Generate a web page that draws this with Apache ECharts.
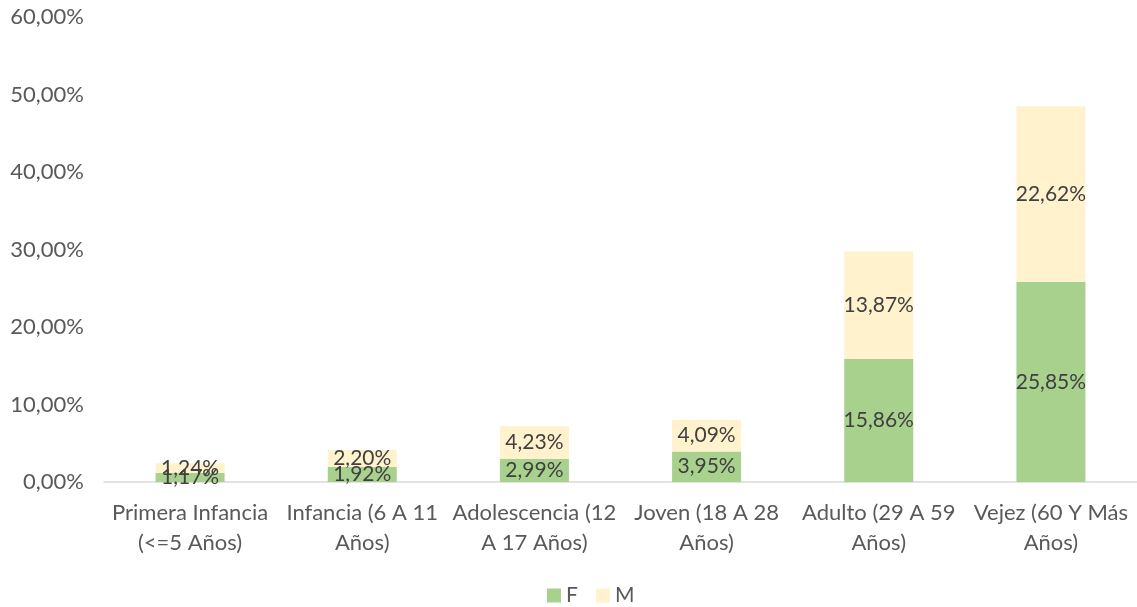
<!DOCTYPE html>
<html lang="es" style="height: 100%">
<head>
  <meta charset="utf-8">
</head>
<body style="height: 100%; margin: 0">
  <div id="container" style="height: 100%"></div>
  <script type="text/javascript" src="https://cdn.jsdelivr.net/npm/echarts@6/dist/echarts.min.js"></script>
  <script>
    var categorias = ['Primera Infancia\n(<=5 Años)', 'Infancia (6 A 11\nAños)', 'Adolescencia (12\nA 17 Años)', 'Joven (18 A 28\nAños)', 'Adulto (29 A 59\nAños)', 'Vejez (60 Y Más\nAños)'];
    var datosF = [1.17, 1.92, 2.99, 3.95, 15.86, 25.85];
    var datosM = [1.24, 2.20, 4.23, 4.09, 13.87, 22.62];

    var fuente = 'Lato, "Open Sans", sans-serif';
    function pct(v) {
      return Number(v).toFixed(2).replace('.', ',') + '%';
    }

    var myChart = echarts.init(document.getElementById('container'), null, { renderer: 'canvas' });

    var etiqueta = {
      show: true,
      position: 'inside',
      color: '#404040',
      fontSize: 21,
      fontFamily: fuente,
      formatter: function (p) { return pct(p.value); }
    };

    var option = {
      animation: false,
      textStyle: { fontFamily: fuente },
      grid: { left: 104, right: -4, top: 17, bottom: 125 },
      legend: {
        bottom: -4,
        left: 542,
        itemWidth: 14,
        itemHeight: 14,
        itemGap: 18,
        icon: 'rect',
        textStyle: { color: '#595959', fontSize: 21, fontFamily: fuente },
        data: ['F', 'M']
      },
      xAxis: {
        type: 'category',
        data: categorias,
        axisLine: { lineStyle: { color: '#d9d9d9', width: 1.5 } },
        axisTick: { show: false },
        axisLabel: { color: '#595959', fontSize: 22, fontFamily: fuente, lineHeight: 30, margin: 16, interval: 0 }
      },
      yAxis: {
        type: 'value',
        min: 0,
        max: 60,
        interval: 10,
        splitLine: { show: false },
        axisLine: { show: false },
        axisTick: { show: false },
        axisLabel: { color: '#595959', fontSize: 22, fontFamily: fuente, margin: 20, formatter: pct }
      },
      series: [
        {
          name: 'F',
          type: 'bar',
          stack: 'total',
          barWidth: 69,
          itemStyle: { color: '#A9D18E' },
          label: etiqueta,
          data: datosF
        },
        {
          name: 'M',
          type: 'bar',
          stack: 'total',
          barWidth: 69,
          itemStyle: { color: '#FFF2CC' },
          label: etiqueta,
          data: datosM
        }
      ]
    };

    myChart.setOption(option);
    window.addEventListener('resize', myChart.resize);
  </script>
</body>
</html>
